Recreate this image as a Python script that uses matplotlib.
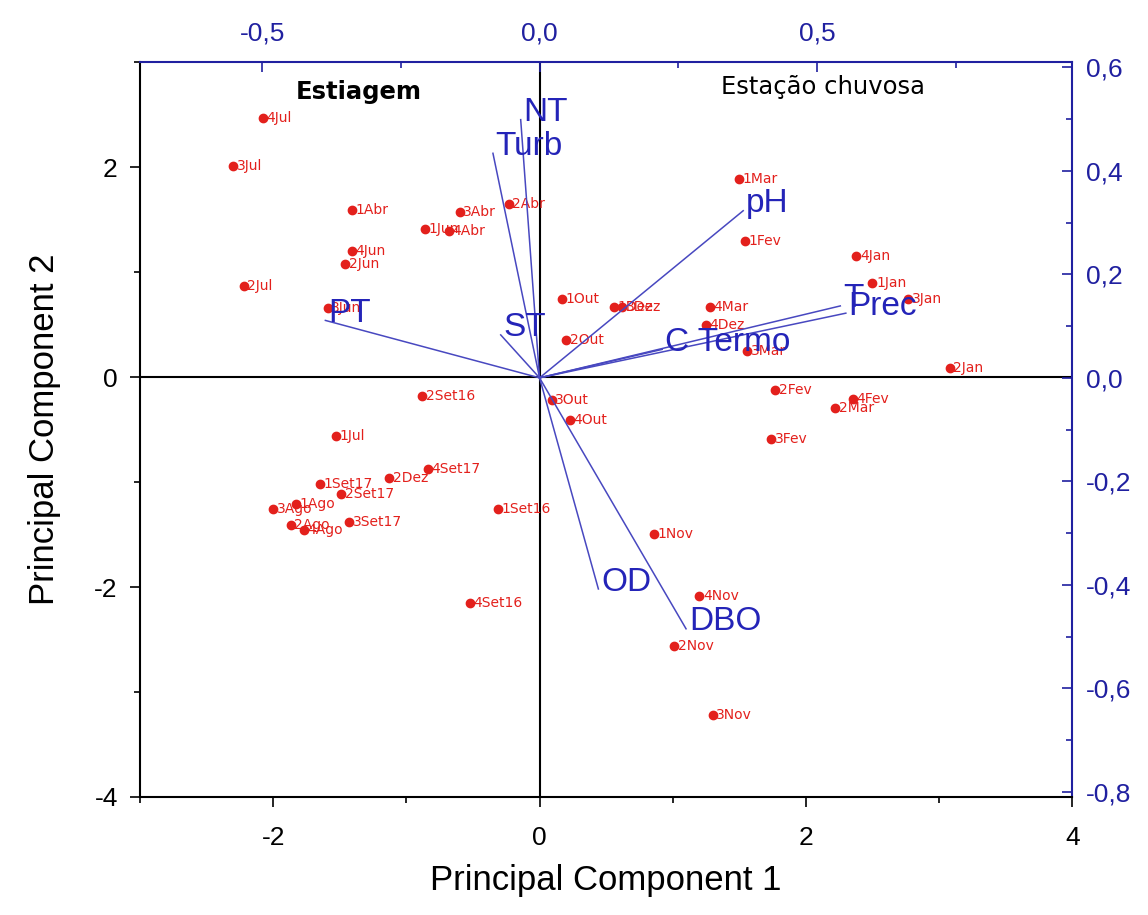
import matplotlib.pyplot as plt
from matplotlib.ticker import MultipleLocator, FuncFormatter

plt.rcParams['font.family'] = ['Liberation Sans', 'DejaVu Sans']
plt.rcParams['axes.unicode_minus'] = False

# scores (bottom / left axes)
samples = ['4Jul', '3Jul', '1Abr', '3Abr', '2Abr', '1Jun', '4Abr', '4Jun', '2Jun', '2Jul',
           '3Jun', '1Out', '1Dez', '3Dez', '2Out', '4Mar', '4Dez', '3Mar', '1Mar', '1Fev',
           '4Jan', '1Jan', '3Jan', '2Jan', '2Fev', '4Fev', '2Mar', '3Fev', '3Out', '4Out',
           '2Set16', '1Jul', '4Set17', '2Dez', '1Set17', '2Set17', '1Ago', '3Ago', '2Ago',
           '4Ago', '3Set17', '1Set16', '4Set16', '1Nov', '4Nov', '2Nov', '3Nov']
pc1 = [-2.08, -2.30, -1.41, -0.60, -0.23, -0.86, -0.68, -1.41, -1.46, -2.22,
       -1.59, 0.17, 0.56, 0.62, 0.20, 1.28, 1.25, 1.56, 1.50, 1.54,
       2.38, 2.50, 2.77, 3.08, 1.77, 2.35, 2.22, 1.74, 0.09, 0.23,
       -0.88, -1.53, -0.84, -1.13, -1.65, -1.49, -1.83, -2.00, -1.87,
       -1.77, -1.43, -0.31, -0.52, 0.86, 1.20, 1.01, 1.30]
pc2 = [2.47, 2.01, 1.59, 1.57, 1.65, 1.41, 1.39, 1.20, 1.08, 0.87,
       0.66, 0.74, 0.67, 0.67, 0.35, 0.67, 0.50, 0.25, 1.89, 1.30,
       1.15, 0.90, 0.74, 0.09, -0.12, -0.21, -0.29, -0.59, -0.22, -0.41,
       -0.18, -0.56, -0.88, -0.96, -1.02, -1.11, -1.21, -1.26, -1.41,
       -1.46, -1.38, -1.26, -2.15, -1.49, -2.09, -2.56, -3.22]

# loadings (top / right axes)
variables = ['PT', 'ST', 'Turb', 'NT', 'pH', 'T', 'Prec', 'C Termo', 'OD', 'DBO']
load1 = [-0.386, -0.070, -0.084, -0.034, 0.367, 0.542, 0.552, 0.221, 0.106, 0.264]
load2 = [0.111, 0.083, 0.434, 0.499, 0.323, 0.139, 0.125, 0.055, -0.408, -0.485]

red = '#e3201c'
blue = '#2424b8'
axblue = '#2020a0'

fig = plt.figure(figsize=(11.48, 9.15), dpi=100)
ax = fig.add_axes([0.122, 0.129, 0.812, 0.803])

ax.axhline(0, color='black', lw=1.5, zorder=1)
ax.axvline(0, color='black', lw=1.5, zorder=1)
ax.plot(pc1, pc2, 'o', color=red, ms=6, zorder=3)
for s, x, y in zip(samples, pc1, pc2):
    ax.annotate(s, (x, y), xytext=(2.5, 0), textcoords='offset points',
                color=red, fontsize=10, family='DejaVu Sans',
                va='center', ha='left', zorder=3)

ax.set_xlim(-3, 4)
ax.set_ylim(-4, 3)
ax.xaxis.set_major_locator(MultipleLocator(2))
ax.xaxis.set_minor_locator(MultipleLocator(1))
ax.yaxis.set_major_locator(MultipleLocator(2))
ax.yaxis.set_minor_locator(MultipleLocator(1))
ax.tick_params(which='both', direction='out', labelsize=19, width=1.2)
ax.tick_params(which='major', length=7)
ax.tick_params(which='minor', length=4)
ax.tick_params(axis='x', pad=14)
ax.tick_params(axis='y', pad=9)
ax.set_xlabel('Principal Component 1', fontsize=25, labelpad=10)
ax.set_ylabel('Principal Component 2', fontsize=25, labelpad=24)
for side in ['left', 'bottom']:
    ax.spines[side].set_linewidth(1.5)
for side in ['top', 'right']:
    ax.spines[side].set_color(axblue)
    ax.spines[side].set_linewidth(1.5)

ax.text(-1.83, 2.72, 'Estiagem', fontsize=17.5, fontweight='bold',
        family='DejaVu Sans', ha='left', va='center')
ax.text(2.13, 2.76, 'Estação chuvosa', fontsize=17.5, family='DejaVu Sans',
        ha='center', va='center')

ax2 = fig.add_axes(ax.get_position(), frameon=False)
ax2.set_xlim(-0.72, 0.96)
ax2.set_ylim(-0.81, 0.61)
for v, x, y in zip(variables, load1, load2):
    ax2.plot([0, x], [0, y], color='#4848c0', lw=1.1, zorder=2)
    ax2.annotate(v, (x, y), xytext=(2, 5), textcoords='offset points',
                 color=blue, fontsize=24, va='center', ha='left')

comma = FuncFormatter(lambda v, p: f'{v:.1f}'.replace('.', ','))
ax2.xaxis.tick_top()
ax2.yaxis.tick_right()
ax2.xaxis.set_major_locator(MultipleLocator(0.5))
ax2.xaxis.set_minor_locator(MultipleLocator(0.25))
ax2.yaxis.set_major_locator(MultipleLocator(0.2))
ax2.yaxis.set_minor_locator(MultipleLocator(0.1))
ax2.xaxis.set_major_formatter(comma)
ax2.yaxis.set_major_formatter(comma)
ax2.tick_params(which='both', direction='in', colors=axblue, labelsize=19, width=1.2)
ax2.tick_params(which='major', length=7)
ax2.tick_params(which='minor', length=4)
ax2.tick_params(axis='x', pad=12)
ax2.tick_params(axis='y', pad=10)

fig.savefig('out.png', dpi=100)
